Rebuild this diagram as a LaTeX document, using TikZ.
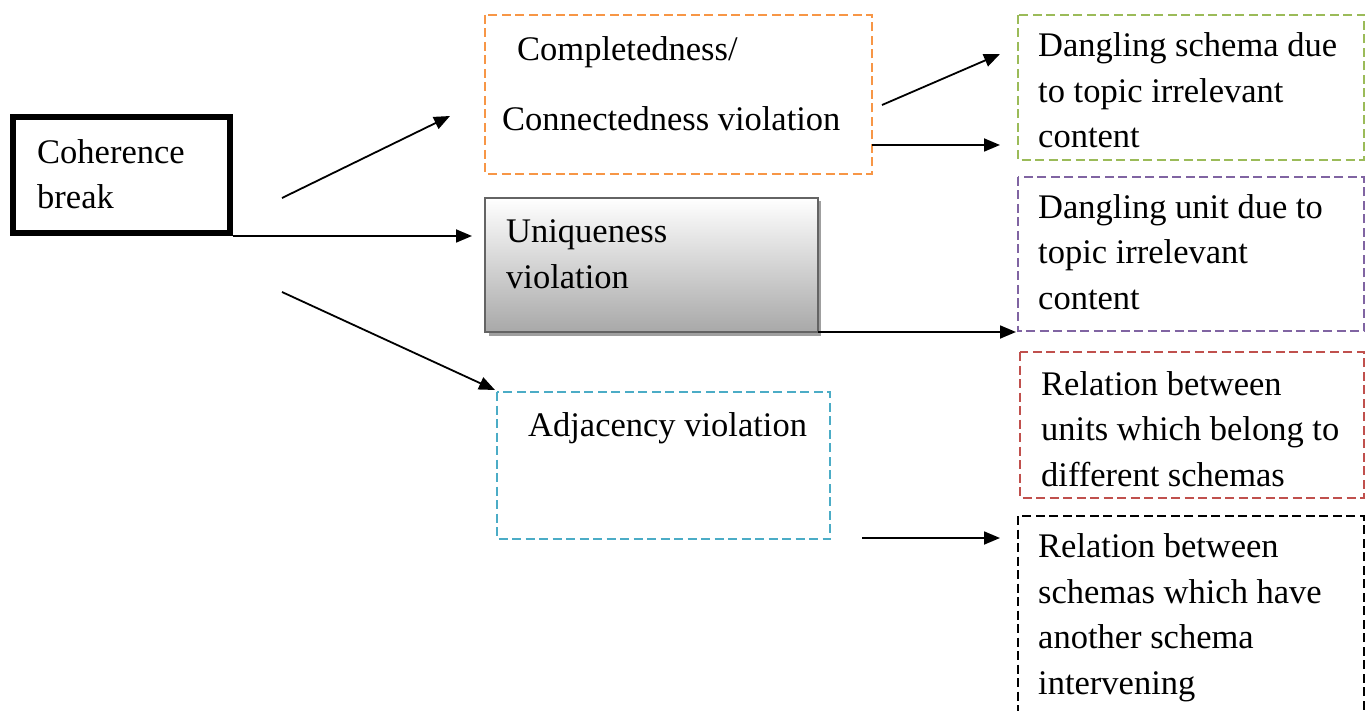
\documentclass[tikz,border=0pt]{standalone}
\usepackage{fontspec}
\setmainfont{Liberation Serif}
\usetikzlibrary{arrows.meta,shadows,calc}
\definecolor{cOrange}{RGB}{247,150,70}
\definecolor{cGreen}{RGB}{155,187,89}
\definecolor{cPurple}{RGB}{128,100,162}
\definecolor{cRed}{RGB}{192,80,77}
\definecolor{cCyan}{RGB}{75,172,198}
\definecolor{cGrayBorder}{RGB}{100,100,100}
\begin{document}
\begin{tikzpicture}[x=1pt,y=-1pt,
  txt/.style={anchor=base west,align=left,inner sep=0pt,font=\fontsize{34.5}{45.5}\selectfont},
  dbox/.style={draw=#1,line width=2pt,dash pattern=on 9pt off 4.5pt},
  conn/.style={line width=1.8pt,-{Triangle[length=16pt,width=13pt]}}
]
\useasboundingbox (0,0) rectangle (1365,711);

% boxes (multi-line texts are placed by the baseline of their last line)
\draw[line width=6pt] (13,117) rectangle (230,233);
\coordinate (cohE) at (233,236);
\node[txt] (coh) at (37,209) {Coherence\\break};

\draw[dbox=cOrange] (485,15) rectangle (872,174);
\node[txt] (comp1) at (517,61) {Completedness/};
\node[txt] (comp2) at (502,131) {Connectedness violation};

\fill[gray!75] (489,201) rectangle (821,336);
\shade[top color=white,bottom color=gray!68,draw=cGrayBorder,line width=2pt] (485,198) rectangle (818,332);
\node[txt] (uniq) at (506,288) {Uniqueness\\violation};

\draw[dbox=cCyan] (497,392) rectangle (830,539);
\node[txt] (adj) at (528,436) {Adjacency violation};

\draw[dbox=cGreen] (1018,15) rectangle (1364,160);
\node[txt] (dsch) at (1038,148) {Dangling schema due\\to topic irrelevant\\content};

\draw[dbox=cPurple] (1018,177) rectangle (1364,331);
\node[txt] (dunit) at (1038,309) {Dangling unit due to\\topic irrelevant\\content};

\draw[dbox=cRed] (1020,352) rectangle (1364,498);
\node[txt] (relu) at (1041,486) {Relation between\\units which belong to\\different schemas};

\draw[dbox=black] (1018,516) rectangle (1364,730);
\node[txt] (rels) at (1038,694) {Relation between\\schemas which have\\another schema\\intervening};

% connector end points
\coordinate (s1) at (282,198); \coordinate (e1) at (450,116);
\coordinate (e2) at (472,236);
\coordinate (s3) at (282,292); \coordinate (e3) at (495,390);
\coordinate (s4) at (882,105); \coordinate (e4) at (1000,54);
\coordinate (s5) at (872,145); \coordinate (e5) at (1000,145);
\coordinate (s6) at (818,332); \coordinate (e6) at (1016,332);
\coordinate (s7) at (862,538); \coordinate (e7) at (1000,538);

\draw[conn] (s1) -- (e1);
\draw[conn] (cohE) -- (e2);
\draw[conn] (s3) -- (e3);
\draw[conn] (s4) -- (e4);
\draw[conn] (s5) -- (e5);
\draw[conn] (s6) -- (e6);
\draw[conn] (s7) -- (e7);
\end{tikzpicture}
\end{document}
